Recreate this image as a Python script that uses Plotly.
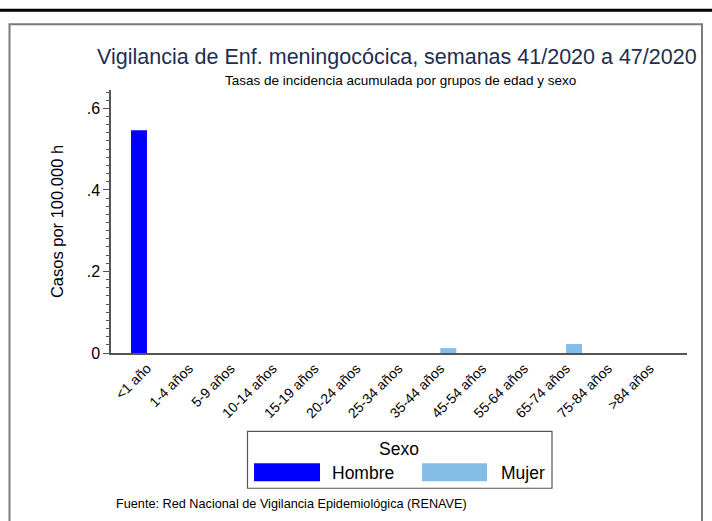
import plotly.graph_objects as go

# ---- data ----
categories = ["<1 año", "1-4 años", "5-9 años", "10-14 años", "15-19 años", "20-24 años",
              "25-34 años", "35-44 años", "45-54 años", "55-64 años", "65-74 años",
              "75-84 años", ">84 años"]
hombre = [0.546, 0, 0, 0, 0, 0, 0, 0, 0, 0, 0, 0, 0]
mujer = [0, 0, 0, 0, 0, 0, 0, 0.012, 0, 0, 0.022, 0, 0]
ytick_vals = [0, 0.2, 0.4, 0.6]
ytick_text = ["0", ".2", ".4", ".6"]

COL_H = "#0000FF"
COL_M = "#86BDE7"
FONT = "Arial, Liberation Sans, sans-serif"

W, H = 712, 521
L, R, T, B = 111, 687, 90, 353.5  # plot area pixel bounds


def px(x):
    return (x - L) / (R - L)


def py(y):
    return (B - y) / (B - T)


fig = go.Figure()
fig.add_trace(go.Bar(x=categories, y=hombre, name="Hombre", marker=dict(color=COL_H, line=dict(width=0))))
fig.add_trace(go.Bar(x=categories, y=mujer, name="Mujer", marker=dict(color=COL_M, line=dict(width=0))))

fig.update_layout(
    width=W, height=H,
    margin=dict(l=L, r=W - R, t=T, b=H - B, pad=0),
    paper_bgcolor="white", plot_bgcolor="white",
    barmode="group", bargap=0.236, bargroupgap=0,
    showlegend=False,
    font=dict(family=FONT, color="black"),
    xaxis=dict(
        range=[-0.859, 12.888], showgrid=False, zeroline=False,
        showline=True, linecolor="#555555", linewidth=1.5,
        ticks="", tickangle=-45, tickfont=dict(size=14, color="black"),
        automargin=False,
    ),
    yaxis=dict(
        range=[0, 0.645], showgrid=False, zeroline=False,
        showline=True, linecolor="#555555", linewidth=1.5,
        tickmode="array", tickvals=ytick_vals, ticktext=ytick_text,
        ticks="outside", ticklen=6, tickcolor="#555555", tickwidth=1.2,
        tickfont=dict(size=16, color="black"),
        minor=dict(tickmode="linear", tick0=0, dtick=0.02, ticks="outside",
                   ticklen=3, tickcolor="#555555", tickwidth=1),
        title=dict(text="Casos por 100.000 h", font=dict(size=16.5, color="black"), standoff=19),
        automargin=False,
    ),
)

shapes = []
# top black rule
shapes.append(dict(type="line", xref="paper", yref="paper", x0=px(0), x1=px(712), y0=py(10), y1=py(10),
                   line=dict(color="black", width=3)))
# outer frame
shapes.append(dict(type="rect", xref="paper", yref="paper", x0=px(9.5), x1=px(702), y0=py(24), y1=py(540),
                   line=dict(color="#7a7a7a", width=2), fillcolor="rgba(0,0,0,0)"))
# legend box
shapes.append(dict(type="rect", xref="paper", yref="paper", x0=px(247.5), x1=px(552), y0=py(432), y1=py(489),
                   line=dict(color="#555555", width=1.2), fillcolor="white"))
# legend swatches
shapes.append(dict(type="rect", xref="paper", yref="paper", x0=px(254), x1=px(320), y0=py(464), y1=py(482),
                   line=dict(width=0), fillcolor=COL_H))
shapes.append(dict(type="rect", xref="paper", yref="paper", x0=px(422), x1=px(487), y0=py(464), y1=py(482),
                   line=dict(width=0), fillcolor=COL_M))

annotations = [
    dict(text="Vigilancia de Enf. meningocócica, semanas 41/2020 a 47/2020", xref="paper", yref="paper",
         x=px(397), y=py(57), xanchor="center", yanchor="middle", showarrow=False,
         font=dict(size=21.5, color="#1E2E50", family=FONT)),
    dict(text="Tasas de incidencia acumulada por grupos de edad y sexo", xref="paper", yref="paper",
         x=px(400), y=py(80), xanchor="center", yanchor="middle", showarrow=False,
         font=dict(size=13.5, color="black", family=FONT)),
    dict(text="Sexo", xref="paper", yref="paper", x=px(399), y=py(450), xanchor="center", yanchor="middle",
         showarrow=False, font=dict(size=17.5, color="black", family=FONT)),
    dict(text="Hombre", xref="paper", yref="paper", x=px(330), y=py(474), xanchor="left", yanchor="middle",
         showarrow=False, font=dict(size=17.5, color="black", family=FONT)),
    dict(text="Mujer", xref="paper", yref="paper", x=px(499), y=py(474), xanchor="left", yanchor="middle",
         showarrow=False, font=dict(size=17.5, color="black", family=FONT)),
    dict(text="Fuente: Red Nacional de Vigilancia Epidemiológica (RENAVE)", xref="paper", yref="paper",
         x=px(114), y=py(505), xanchor="left", yanchor="middle", showarrow=False,
         font=dict(size=12.7, color="black", family=FONT)),
]
fig.update_layout(shapes=shapes, annotations=annotations)

fig.write_html("out.html", config={"displayModeBar": False},
               post_script="document.body.style.margin='0';")
